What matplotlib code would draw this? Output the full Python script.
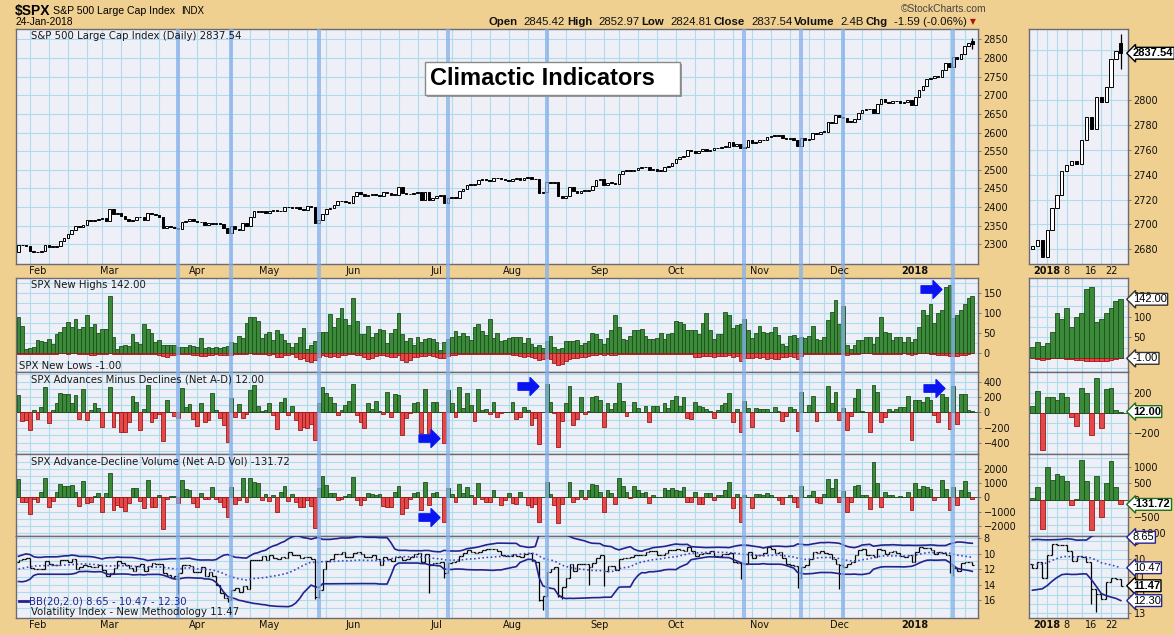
import numpy as np
import pandas as pd
import matplotlib
matplotlib.use("Agg")
import matplotlib.pyplot as plt
from matplotlib.patches import Rectangle
from matplotlib.lines import Line2D
from matplotlib.path import Path
from matplotlib import transforms

plt.rcParams["font.family"] = ["DejaVu Sans"]

# ─── datos ────────────────────────────────────────────────────────
holidays = ["2017-02-20", "2017-04-14", "2017-05-29", "2017-07-04", "2017-09-04",
            "2017-11-23", "2017-12-25", "2018-01-01", "2018-01-15"]
dates = pd.bdate_range("2017-01-25", "2018-01-24", freq="C", holidays=holidays)

spx_prev_close = 2280.07
spx_close = [
    2298.37, 2296.68, 2294.69, 2280.90, 2278.87,
    2279.55, 2280.85, 2297.42, 2292.56, 2293.08, 2294.67, 2307.87, 2316.10, 2328.25, 2337.58,
    2349.25, 2347.22, 2351.16, 2365.38, 2362.82, 2363.81, 2367.34, 2369.75, 2363.64,
    2395.96, 2381.92, 2383.12, 2375.31, 2368.39, 2362.98, 2364.87, 2372.60, 2373.47, 2365.45,
    2385.26, 2381.38, 2378.25, 2373.47, 2344.02, 2348.45, 2345.96, 2343.98, 2341.59, 2358.57,
    2361.13, 2368.06, 2362.72,
    2358.84, 2360.16, 2352.95, 2357.49, 2355.54, 2357.16, 2353.78, 2344.93, 2328.95, 2349.01,
    2342.19, 2338.17, 2355.84, 2348.69, 2374.15, 2388.61, 2387.45, 2388.77, 2384.20,
    2388.33, 2391.17, 2388.13, 2389.52, 2399.29, 2399.38, 2396.92, 2399.63, 2394.44, 2390.90,
    2402.32, 2400.67, 2357.03, 2365.72, 2381.73, 2394.02, 2398.42, 2404.39, 2415.07, 2415.82,
    2412.91, 2411.80,
    2430.06, 2439.07, 2436.10, 2429.33, 2433.14, 2433.79, 2431.77, 2429.39, 2440.35, 2437.92,
    2432.46, 2433.15, 2453.46, 2437.03, 2435.61, 2434.50, 2438.30, 2439.07, 2419.38, 2440.69,
    2419.70, 2423.41,
    2429.01, 2432.54, 2409.75, 2425.18, 2427.43, 2425.53, 2443.25, 2447.83, 2459.27, 2459.14,
    2460.61, 2473.83, 2473.45, 2472.54, 2469.91, 2477.13, 2477.83, 2475.42, 2472.10, 2470.30,
    2476.35, 2477.57, 2472.16, 2476.83, 2480.91, 2474.92, 2474.02, 2438.21, 2441.32, 2465.84,
    2464.61, 2468.11, 2430.01, 2425.55, 2428.37, 2452.51, 2444.04, 2438.97, 2443.05, 2444.24,
    2446.30, 2457.59, 2471.65,
    2476.55, 2457.85, 2465.54, 2465.10, 2461.43, 2488.11, 2496.48, 2498.37, 2495.62, 2500.23,
    2503.87, 2506.65, 2508.24, 2500.60, 2502.22, 2496.66, 2496.84, 2507.04, 2510.06, 2519.36,
    2529.12, 2534.58, 2537.74, 2552.07, 2549.33, 2544.73, 2550.64, 2555.24, 2550.93, 2553.17,
    2557.64, 2559.36, 2561.26, 2562.10, 2575.21, 2564.98, 2569.13, 2557.15, 2560.40, 2581.07,
    2572.83, 2575.26,
    2579.36, 2579.85, 2587.84, 2591.13, 2590.64, 2594.38, 2584.62, 2582.30, 2584.84, 2578.87,
    2564.62, 2585.64, 2578.85, 2582.14, 2599.03, 2597.08, 2602.42, 2601.42, 2627.04, 2626.07,
    2647.58,
    2642.22, 2639.44, 2629.57, 2629.27, 2636.98, 2651.50, 2659.99, 2664.11, 2662.85, 2652.01,
    2675.81, 2690.16, 2681.47, 2679.25, 2684.57, 2683.34, 2680.50, 2682.62, 2687.54, 2673.61,
    2695.81, 2713.06, 2723.99, 2743.15, 2747.71, 2751.29, 2748.23, 2767.56, 2786.24, 2776.42,
    2802.56, 2798.03, 2810.30, 2832.97, 2839.13, 2837.54,
]
last_ohlc = (2845.42, 2852.97, 2824.81, 2837.54)

new_highs = [
    89, 68, 9, 11, 15, 32, 30, 27, 35, 22,
    48, 53, 65, 77, 66, 84, 60, 64, 95, 65,
    72, 49, 60, 59, 143, 40, 9, 18, 20, 17,
    47, 28, 22, 72, 60, 49, 28, 32, 20, 20,
    20, 20, 15, 14, 15, 19, 18, 14, 37, 12,
    15, 11, 14, 11, 15, 16, 26, 24, 42, 38,
    76, 89, 89, 79, 38, 48, 53, 32, 57, 48,
    33, 25, 15, 24, 40, 62, 10, 20, 30, 53,
    53, 53, 97, 65, 87, 112, 84, 70, 139, 80,
    46, 46, 67, 40, 49, 61, 57, 24, 49, 61,
    101, 46, 29, 36, 19, 40, 28, 34, 36, 34,
    28, 7, 26, 34, 39, 55, 42, 51, 41, 32,
    64, 72, 55, 45, 84, 36, 49, 29, 32, 36,
    40, 40, 40, 24, 36, 21, 15, 19, 13, 29,
    42, 15, 9, 13, 29, 29, 29, 32, 19, 24,
    29, 51, 47, 34, 22, 38, 57, 95, 64, 34,
    32, 42, 57, 57, 61, 42, 34, 34, 36, 51,
    34, 46, 49, 80, 78, 72, 57, 57, 57, 46,
    76, 99, 57, 34, 46, 46, 102, 95, 63, 70,
    72, 84, 57, 38, 51, 67, 53, 51, 53, 64,
    45, 22, 18, 42, 45, 36, 40, 36, 43, 67,
    34, 32, 40, 82, 104, 133, 72, 119, 19, 9,
    19, 31, 31, 40, 39, 21, 40, 89, 53, 49,
    32, 40, 39, 26, 39, 28, 35, 64, 108, 95,
    122, 74, 99, 109, 167, 171, 87, 95, 109, 122,
    139, 142,
]
new_lows = [
    3, 4, 2, 2, 3, 2, 2, 3, 2, 3,
    2, 1, 1, 2, 1, 1, 2, 2, 4, 5,
    5, 3, 2, 2, 1, 2, 3, 3, 3, 2,
    2, 3, 3, 2, 2, 2, 4, 5, 8, 10,
    7, 5, 4, 3, 4, 3, 5, 6, 8, 8,
    6, 6, 4, 5, 6, 7, 5, 3, 3, 2,
    2, 1, 2, 2, 3, 3, 5, 4, 10, 12,
    6, 5, 4, 12, 15, 14, 20, 23, 18, 10,
    6, 8, 10, 8, 12, 6, 5, 4, 3, 5,
    7, 12, 15, 14, 8, 6, 7, 9, 10, 12,
    6, 18, 24, 19, 12, 10, 9, 8, 7, 8,
    10, 14, 13, 9, 7, 5, 4, 4, 3, 4,
    3, 3, 4, 4, 3, 3, 4, 4, 3, 4,
    5, 6, 8, 10, 9, 12, 14, 18, 17, 14,
    15, 25, 31, 28, 20, 16, 14, 14, 12, 10,
    8, 6, 6, 4, 5, 4, 6, 5, 4, 4,
    4, 3, 3, 4, 3, 3, 2, 3, 3, 2,
    3, 3, 2, 3, 4, 4, 3, 4, 10, 10,
    9, 8, 8, 10, 9, 8, 9, 6, 10, 9,
    21, 14, 14, 13, 12, 14, 12, 15, 14, 16,
    15, 12, 10, 9, 10, 16, 8, 4, 3, 4,
    3, 4, 3, 4, 3, 4, 3, 4, 6, 4,
    2, 2, 1, 1, 1, 2, 4, 4, 3, 3,
    2, 2, 2, 1, 2, 5, 2, 1, 1, 1,
    2, 3, 5, 5, 7, 8, 8, 8, 7, 6,
    3, 1,
]
net_ad = [
    226, -109, -100, -230, 25, -91, 74, 326, -143, 30,
    117, 256, 235, 235, 117, 226, -91, 300, -100, 30,
    126, 52, -187, 10, 326, -187, -15, -252, -252, -122,
    213, 139, -230, 40, 357, -122, -75, -20, -374, 160,
    10, -48, -75, 313, 74, 109, -91, -178, 120, -122,
    -100, 248, 30, -70, -160, -383, 180, -60, 110, -70,
    -20, 291, 357, 80, 20, 30, 120, -40, -220, 130,
    180, -40, 80, -100, -230, -190, -200, -150, -360, 126,
    326, 248, 204, 120, -40, 30, 100, 150, 370, -30,
    -122, -209, 126, 40, 150, 20, -20, 270, -57, 240,
    226, -296, -78, -13, 117, 130, -274, 300, -274, 139,
    130, 5, -404, 291, 117, -57, 326, 52, 248, 96,
    -109, 300, 30, 39, -26, 135, -57, -13, 10, 8,
    130, -87, -57, 74, 30, -165, -78, -413, 10, 365,
    139, -13, -457, -113, 117, 343, -165, -87, 196, -20,
    20, 196, 217, 157, -196, 117, 39, 117, 378, 152,
    -48, 5, 130, 61, 5, 87, -122, 87, 87, 10,
    117, 52, 161, 217, 87, 196, -78, -87, 130, 83,
    74, 39, 15, -70, 30, 96, 120, 248, -130, 40,
    -261, 143, 52, -196, 52, 43, 43, 39, 10, 74,
    20, -109, -43, 74, 43, -243, 261, 10, 96, 213,
    -109, 10, 10, 343, 117, 261, -100, 52, -230, -43,
    183, 304, 17, 9, -261, 357, 270, -122, -57, 39,
    17, 39, 74, 67, 218, -368, 158, 158, 130, 200,
    158, -39, -133, 242, 193, -221, 347, -151, 235, 242,
    32, 12,
]
net_ad_vol = [
    1260, -300, -300, -1160, -100, -300, 400, 1330, -650, -250,
    400, 910, 790, 800, 850, 400, -580, 1160, -370, -300,
    100, 330, -1050, 280, 1680, -880, -540, -700, -930, -400,
    630, 680, -250, -770, 1210, -650, -650, 150, -2240, -100,
    100, 100, -400, 1210, 560, 500, -400, -650, 300, -100,
    -100, 700, -100, -300, -650, -1350, 700, -500, -200, 1330,
    -300, 1330, 1100, 1000, -200, 200, -250, 150, -1000, 400,
    800, -250, 200, -300, -700, -650, -200, -600, -2170, 630,
    1490, 860, 330, 280, -200, -150, 80, 200, 1400, -200,
    -540, -200, 330, 200, 160, 200, -580, -700, -650, 400,
    816, -1190, -770, -120, 280, 350, -886, 1095, -536, 280,
    350, 50, -1700, 630, 200, -300, 909, 280, 700, 160,
    -490, 980, -120, -300, -300, 513, 50, -536, -180, 280,
    -420, -490, 350, 50, -536, -650, -500, -1750, 50, 1050,
    200, -536, -1818, -490, 50, 1050, -300, -120, 513, -120,
    513, 909, 860, 400, -1049, 513, 300, -490, 1375, 816,
    400, -20, 816, 513, 280, 400, -373, 160, 50, 50,
    676, 513, 630, 513, 440, 746, -300, -350, 400, -490,
    -490, 280, 280, -190, 160, 160, 500, 1095, -770, 200,
    -1700, 160, 30, -770, 200, 200, 160, 320, 160, 30,
    -200, -490, 30, 160, -300, -650, 816, 50, 160, 440,
    -300, -373, 200, 1280, 630, 1280, -300, 440, -1049, -300,
    816, 860, 160, 160, -816, 2494, 980, -650, 350, 160,
    160, 50, 100, 50, 398, -878, 990, 602, 786, 724,
    582, -163, 20, 1194, 582, -908, 724, -520, 520, 1163,
    398, -131.72,
]
vix_prior = [11.99, 12.95, 13.37, 14.04, 12.85, 11.85, 11.67, 11.32, 11.56, 11.49,
             11.26, 11.54, 11.23, 11.87, 12.48, 12.78, 11.54, 11.77, 11.07]
vix_close = [
    10.81, 10.63, 10.58, 11.88, 11.99,
    12.04, 11.93, 10.97, 11.37, 11.45, 11.45, 10.88, 10.85, 11.07, 10.74,
    11.97, 11.76, 11.49, 11.57, 11.74, 11.71, 11.47, 12.09, 12.92,
    12.54, 11.81, 10.96, 11.24, 11.45, 11.86, 12.30, 11.66, 11.35, 12.30,
    11.63, 11.21, 11.28, 11.34, 12.47, 12.81, 13.12, 12.96, 12.50, 11.53,
    11.42, 11.54, 12.37,
    12.38, 11.79, 12.89, 12.39, 12.87, 14.05, 15.07, 15.77, 15.96, 14.66,
    14.42, 14.93, 14.15, 14.63, 10.84, 10.76, 10.85, 10.36, 10.82,
    10.11, 10.59, 10.68, 10.46, 10.57, 9.77, 10.11, 10.21, 10.60, 10.40,
    10.42, 10.65, 15.59, 14.66, 12.04, 10.93, 10.72, 10.02, 9.99, 9.81,
    10.38, 10.41,
    9.89, 9.75, 10.07, 10.45, 10.39, 10.16, 10.70, 11.46, 10.42, 10.64,
    10.90, 10.38, 10.37, 10.86, 10.75, 10.48, 10.02, 9.90, 11.06, 10.03,
    11.44, 11.18,
    11.22, 11.07, 12.54, 11.19, 11.11, 10.89, 10.30, 9.90, 9.51, 9.82,
    9.89, 9.79, 9.58, 9.36, 9.43, 9.43, 9.60, 10.11, 10.29, 10.26,
    10.09, 10.28, 10.44, 10.03, 9.93, 10.96, 11.11, 16.04, 15.51, 12.33,
    12.04, 11.74, 15.55, 14.26, 13.19, 11.35, 12.25, 11.28, 11.28, 11.32,
    11.70, 11.22, 10.59,
    10.13, 12.23, 11.63, 11.55, 12.12, 10.73, 10.58, 10.50, 10.44, 10.17,
    10.15, 10.18, 9.78, 9.67, 9.59, 10.21, 10.17, 9.87, 9.55, 9.51,
    9.45, 9.51, 9.63, 9.19, 9.65, 10.33, 10.08, 9.85, 9.91, 9.61,
    10.31, 10.31, 10.07, 10.05, 9.97, 11.07, 11.16, 11.23, 11.30, 9.80,
    10.50, 10.18,
    10.20, 9.93, 9.14, 9.40, 9.89, 9.78, 10.50, 11.29, 11.50, 11.59,
    13.13, 11.76, 11.43, 10.65, 9.73, 9.88, 9.67, 9.87, 10.03, 10.70,
    11.28,
    11.43, 11.68, 11.33, 11.02, 10.16, 9.58, 9.34, 10.18, 10.18, 10.49,
    9.42, 9.53, 10.03, 9.72, 9.62, 9.90, 10.25, 10.47, 10.18, 11.04,
    9.77, 9.15, 9.22, 9.22, 9.52, 10.08, 9.82, 9.88, 10.16, 11.66,
    11.91, 12.22, 11.27, 11.03, 11.10, 11.47,
]
# maximos intradiarios visibles (mechas largas)
vix_spike_high = {
    "2017-03-27": 15.2, "2017-04-13": 16.28, "2017-05-17": 15.9, "2017-05-18": 15.7,
    "2017-06-29": 15.16, "2017-07-06": 13.2, "2017-08-10": 16.1, "2017-08-11": 17.28,
    "2017-08-17": 15.6, "2017-08-18": 15.9, "2017-08-29": 14.0, "2017-09-05": 14.2,
    "2017-10-25": 13.3, "2017-11-15": 14.5, "2017-12-01": 14.6, "2018-01-16": 12.5,
    "2018-01-17": 12.9,
}

highlight_dates = ["2017-03-27", "2017-04-17", "2017-05-18", "2017-07-07", "2017-08-14",
                   "2017-10-26", "2017-11-16", "2017-12-04", "2018-01-17"]
arrow_marks = [("nh", "2018-01-08", 161), ("ad", "2017-08-07", 343),
               ("ad", "2017-06-29", -335), ("ad", "2018-01-09", 317),
               ("adv", "2017-06-29", -1378)]

n = len(dates)
for arr in (spx_close, new_highs, new_lows, net_ad, net_ad_vol, vix_close):
    assert len(arr) == n, (len(arr), n)

# ─── estilo ───────────────────────────────────────────────────────
TAN = "#F0D090"
PANEL = "#EFF0F7"
GRID = "#ADDCEA"
EDGE = "#6B6B78"
GREEN, GREEN_E = "#3A8A3A", "#1D4F1D"
RED, RED_E = "#E54848", "#A01818"
HILITE = "#84B0EA"
NAVY = "#23238E"
ARIAL = "Liberation Sans"

W, H = 1174, 635
fig = plt.figure(figsize=(W / 100, H / 100), dpi=100)
fig.patch.set_facecolor(TAN)

MAIN_L, MAIN_R, MINI_L, MINI_R = 16, 978, 1029, 1128
ROWS = {"price": (29, 264), "nh": (278, 372), "ad": (372, 454),
        "adv": (454, 536), "vix": (536, 618)}


def px_axes(l, t, r, b):
    ax = fig.add_axes([l / W, 1 - b / H, (r - l) / W, (b - t) / H])
    ax.set_facecolor(PANEL)
    for s in ax.spines.values():
        s.set_color(EDGE)
        s.set_linewidth(1.0)
    ax.tick_params(axis="x", bottom=False, labelbottom=False)
    ax.yaxis.tick_right()
    ax.tick_params(axis="y", which="major", right=True, length=2, width=0.6, color=EDGE,
                   labelsize=7, pad=2, labelcolor="#111")
    ax.tick_params(axis="y", which="minor", right=False)
    ax.set_axisbelow(True)
    return ax


xs_main = np.arange(n)
mini_start = n - 19
xs_mini = np.arange(19)
idx = {d.strftime("%Y-%m-%d"): i for i, d in enumerate(dates)}

week_starts = [i for i in range(1, n) if dates[i].weekday() < dates[i - 1].weekday()]
mini_grid = [k for k in range(19)
             if dates[mini_start + k].weekday() in (0, 3) or k == 3]

axes = {}
for key, (t, b) in ROWS.items():
    axes[key] = (px_axes(MAIN_L, t, MAIN_R, b), px_axes(MINI_L, t, MINI_R, b))

for key, (am, an) in axes.items():
    am.set_xlim(-0.66, 252.5)
    an.set_xlim(-0.7, 19.46)
    am.vlines(week_starts, 0, 1, transform=am.get_xaxis_transform(), color=GRID, lw=0.8, zorder=0.5)
    an.vlines(mini_grid, 0, 1, transform=an.get_xaxis_transform(), color=GRID, lw=0.8, zorder=0.5)


def ygrid(ax, major, minor):
    ax.set_yticks(major)
    ax.set_yticks(minor, minor=True)
    ax.grid(True, which="both", axis="y", color=GRID, lw=0.8, zorder=0.5)


# ─── precio ───────────────────────────────────────────────────────
closes = np.array(spx_close)
opens = np.r_[spx_prev_close, closes[:-1]]
opens[-1] = last_ohlc[0]


def candles(ax, xs, o, c, w, minh):
    up = c >= o
    lo = np.minimum(o, c)
    h = np.maximum(np.abs(c - o), minh)
    ax.bar(xs[up], h[up], bottom=lo[up], width=w, facecolor="white", edgecolor="black", lw=0.7, zorder=3)
    ax.bar(xs[~up], h[~up], bottom=lo[~up], width=w, facecolor="black", edgecolor="black", lw=0.7, zorder=3)
    ax.vlines(xs[-1], last_ohlc[2], last_ohlc[1], color="black", lw=0.9, zorder=2)


am, an = axes["price"]
candles(am, xs_main, opens, closes, 0.7, 1.6)
am.set_ylim(2247, 2878)
ygrid(am, np.arange(2300, 2851, 50), [])
candles(an, xs_mini, opens[mini_start:], closes[mini_start:], 0.65, 0.9)
an.set_ylim(2668.2, 2857)
ygrid(an, np.arange(2680, 2801, 20), [2820, 2840])

# ─── nuevos maximos / minimos ─────────────────────────────────────
nh = np.array(new_highs, float)
nl = np.array(new_lows, float)
am, an = axes["nh"]
for ax, xs, sl in ((am, xs_main, slice(None)), (an, xs_mini, slice(mini_start, None))):
    ax.bar(xs, nh[sl], width=1.0, color=GREEN, edgecolor=GREEN_E, lw=0.6, zorder=3)
    ax.bar(xs, -nl[sl], width=1.0, color=RED, edgecolor=RED_E, lw=0.6, zorder=3)
am.set_ylim(-48.7, 188.6)
ygrid(am, [0, 50, 100, 150], [25, 75, 125, 175, -25])
an.set_ylim(-34, 193.5)
ygrid(an, [0, 50, 100, 150], [25, 75, 125, 175, -25])

# ─── A-D y A-D volumen ────────────────────────────────────────────
def signed_bars(ax, xs, vals):
    vals = np.asarray(vals, float)
    pos = vals >= 0
    ax.bar(xs[pos], vals[pos], width=1.0, color=GREEN, edgecolor=GREEN_E, lw=0.6, zorder=3)
    ax.bar(xs[~pos], vals[~pos], width=1.0, color=RED, edgecolor=RED_E, lw=0.6, zorder=3)
    ax.axhline(0, color=GREEN_E, lw=0.6, zorder=2)


ad = np.array(net_ad, float)
am, an = axes["ad"]
signed_bars(am, xs_main, ad)
signed_bars(an, xs_mini, ad[mini_start:])
am.set_ylim(-544, 525)
ygrid(am, [-400, -200, 0, 200, 400], [-500, -300, -100, 100, 300, 500])
an.set_ylim(-407, 403)
ygrid(an, [-200, 0, 200], [-300, -100, 100, 300])

adv = np.array(net_ad_vol, float)
am, an = axes["adv"]
signed_bars(am, xs_main, adv)
signed_bars(an, xs_mini, adv[mini_start:])
am.set_ylim(-2706, 3028)
ygrid(am, [-2000, -1000, 0, 1000, 2000], [-2500, -1500, -500, 500, 1500, 2500])
an.set_ylim(-1081, 1381)
ygrid(an, [-1000, -500, 0, 500, 1000], [-750, -250, 250, 750, 1250])

# ─── VIX ──────────────────────────────────────────────────────────
vc = np.array(vix_close)
vo = np.r_[vix_prior[-1], vc[:-1]]
vh = np.maximum(vo, vc)
for d, v in vix_spike_high.items():
    vh[idx[d]] = max(vh[idx[d]], v)
vl = np.minimum(vo, vc)
allv = pd.Series(vix_prior + vix_close)
mid = allv.rolling(20).mean().values[-n:]
sd = allv.rolling(20).std(ddof=0).values[-n:]
bb_lo, bb_hi = mid - 2 * sd, mid + 2 * sd

am, an = axes["vix"]
for ax, xs, sl, tk in ((am, xs_main, slice(None), 0.45), (an, xs_mini, slice(mini_start, None), 0.4)):
    ax.vlines(xs, vl[sl], vh[sl], color="black", lw=0.9, zorder=3)
    ax.hlines(vo[sl], xs - tk, xs, color="black", lw=0.9, zorder=3)
    ax.hlines(vc[sl], xs, xs + tk, color="black", lw=0.9, zorder=3)
    ax.plot(xs, bb_lo[sl], color=NAVY, lw=1.2, zorder=4)
    ax.plot(xs, bb_hi[sl], color=NAVY, lw=1.2, zorder=4)
    ax.plot(xs, mid[sl], color="#4646C0", lw=1.2, ls=(0, (1, 1.5)), zorder=4)
am.set_ylim(18.35, 7.7)
ygrid(am, [8, 10, 12, 14, 16], [9, 11, 13, 15, 17])
an.set_ylim(13.26, 8.71)
ygrid(an, [9, 10, 11, 12, 13], [9.5, 10.5, 11.5, 12.5])

# ─── etiquetas de valor en los paneles chicos ─────────────────────
def tag(ax, val, text, ec, bold=False):
    ax.annotate(text, xy=(1.0, val), xycoords=ax.get_yaxis_transform(),
                xytext=(3.5, 0), textcoords="offset points", ha="left", va="center",
                fontsize=8, family=ARIAL, fontweight="bold" if bold else "normal", color="black",
                bbox=dict(boxstyle="larrow,pad=0.08", fc="white", ec=ec, lw=1.0),
                annotation_clip=False, zorder=20)


tag(axes["price"][1], 2837.54, "2837.54", "black", True)
tag(axes["nh"][1], nh[-1], "142.00", "#333333")
tag(axes["nh"][1], -nl[-1], "-1.00", "#333333")
tag(axes["ad"][1], ad[-1], "12.00", "#1D6F1D", True)
tag(axes["adv"][1], adv[-1], "-131.72", "#1D6F1D", True)
tag(axes["vix"][1], 8.78, "8.65", NAVY)
tag(axes["vix"][1], mid[-1], "10.47", NAVY)
tag(axes["vix"][1], vc[-1], "11.47", "black", True)
tag(axes["vix"][1], bb_hi[-1], "12.30", NAVY)

# ─── bandas de dias climaticos ────────────────────────────────────
blend = transforms.blended_transform_factory(axes["price"][0].transData, fig.transFigure)
for d in highlight_dates:
    i = idx[d]
    fig.add_artist(Rectangle((i - 0.5, 1 - 618 / H), 1.05, (618 - 29) / H, transform=blend,
                             facecolor=HILITE, edgecolor="none", alpha=0.75, zorder=1))

# flechas azules
arrow_path = Path([(-1, -0.35), (0.15, -0.35), (0.15, -0.85), (1, 0), (0.15, 0.85),
                   (0.15, 0.35), (-1, 0.35), (-1, -0.35)],
                  [Path.MOVETO] + [Path.LINETO] * 6 + [Path.CLOSEPOLY])
for key, d, val in arrow_marks:
    axes[key][0].plot([idx[d]], [val], marker=arrow_path, markersize=15, color="#0A14F0",
                      markeredgecolor="#0A14F0", zorder=15, clip_on=False)

# ─── eje de fechas ────────────────────────────────────────────────
month_starts = [i for i in range(1, n) if dates[i].month != dates[i - 1].month]
tr_main = transforms.blended_transform_factory(axes["price"][0].transData, fig.transFigure)
tr_mini = transforms.blended_transform_factory(axes["price"][1].transData, fig.transFigure)
for ypx in (271, 625):
    for i in month_starts:
        if dates[i].year == 2018:
            lab, wt = "2018", "bold"
        else:
            lab, wt = dates[i].strftime("%b"), "normal"
        fig.text(i, 1 - ypx / H, lab, transform=tr_main, ha="center", va="center",
                 fontsize=7, fontweight=wt, color="#111")
    for k, lab, wt in ((3, "2018", "bold"), (7, "8", "normal"), (12, "16", "normal"), (16, "22", "normal")):
        fig.text(k, 1 - ypx / H, lab, transform=tr_mini, ha="center", va="center",
                 fontsize=7, fontweight=wt, color="#111")

# ─── titulos de paneles ───────────────────────────────────────────
def ptext(x, y, s, **kw):
    kw.setdefault("fontsize", 7.3)
    kw.setdefault("color", "#1A1A1A")
    fig.text(x / W, 1 - y / H, s, va="center", ha="left", zorder=6, **kw)


ptext(31, 36, "S&P 500 Large Cap Index (Daily) 2837.54")
ptext(31, 285, "SPX New Highs 142.00")
ptext(19, 366, "SPX New Lows -1.00")
ptext(31, 380, "SPX Advances Minus Declines (Net A-D) 12.00")
ptext(31, 462, "SPX Advance-Decline Volume (Net A-D Vol) -131.72")
fig.add_artist(Line2D([19 / W, 28 / W], [1 - 601 / H, 1 - 601 / H], color=NAVY, lw=2))
ptext(29, 601, "BB(20,2.0) 8.65 - 10.47 - 12.30", color=NAVY)
ptext(31, 612, "Volatility Index - New Methodology 11.47")

# caja "Climactic Indicators"
fig.add_artist(Rectangle((427 / W, 1 - 97 / H), 255 / W, 33 / H, transform=fig.transFigure,
                         facecolor="#9A9A9A", edgecolor="none", zorder=5))
fig.add_artist(Rectangle((425 / W, 1 - 95 / H), 255 / W, 33 / H, transform=fig.transFigure,
                         facecolor="white", edgecolor="#8A8A8A", lw=1, zorder=5))
fig.text(430 / W, 1 - 78.5 / H, "Climactic Indicators", fontsize=17, fontweight="bold",
         family=ARIAL, va="center", ha="left", zorder=6)

# ─── encabezado ───────────────────────────────────────────────────
fig.text(15 / W, 1 - 11 / H, "$SPX", fontsize=10, fontweight="bold", family=ARIAL, va="center", ha="left")
fig.text(53 / W, 1 - 11 / H, "S&P 500 Large Cap Index", fontsize=7.6, family=ARIAL, va="center", ha="left")
fig.text(181 / W, 1 - 11 / H, "INDX", fontsize=7, family=ARIAL, va="center", ha="left")
fig.text(16 / W, 1 - 22 / H, "24-Jan-2018", fontsize=7.4, family=ARIAL, va="center", ha="left")
fig.text(944 / W, 1 - 9 / H, "\u00a9StockCharts.com", fontsize=7.4, family=ARIAL,
         va="center", ha="center", color="#444")

quote_parts = [("Open", True), ("2845.42", False), ("High", True), ("2852.97", False),
               ("Low", True), ("2824.81", False), ("Close", True), ("2837.54", False),
               ("Volume", True), ("2.4B", False), ("Chg", True), ("-1.59 (-0.06%)", False)]
renderer = fig.canvas.get_renderer()
items = []
for s, b in quote_parts:
    t = fig.text(0, 1 - 22 / H, s, fontsize=8.2, family=ARIAL, fontweight="bold" if b else "normal",
                 va="center", ha="left", color="#111")
    items.append((t, t.get_window_extent(renderer).width, b))
x = 967.0
for t, wpx, b in reversed(items):
    x -= wpx
    t.set_x(x / W)
    x -= 2 if b else 6
fig.text(973 / W, 1 - 22 / H, "\u25bc", fontsize=5.5, color="#B01010", va="center", ha="center")

fig.savefig("out.png", dpi=100, facecolor=TAN)
